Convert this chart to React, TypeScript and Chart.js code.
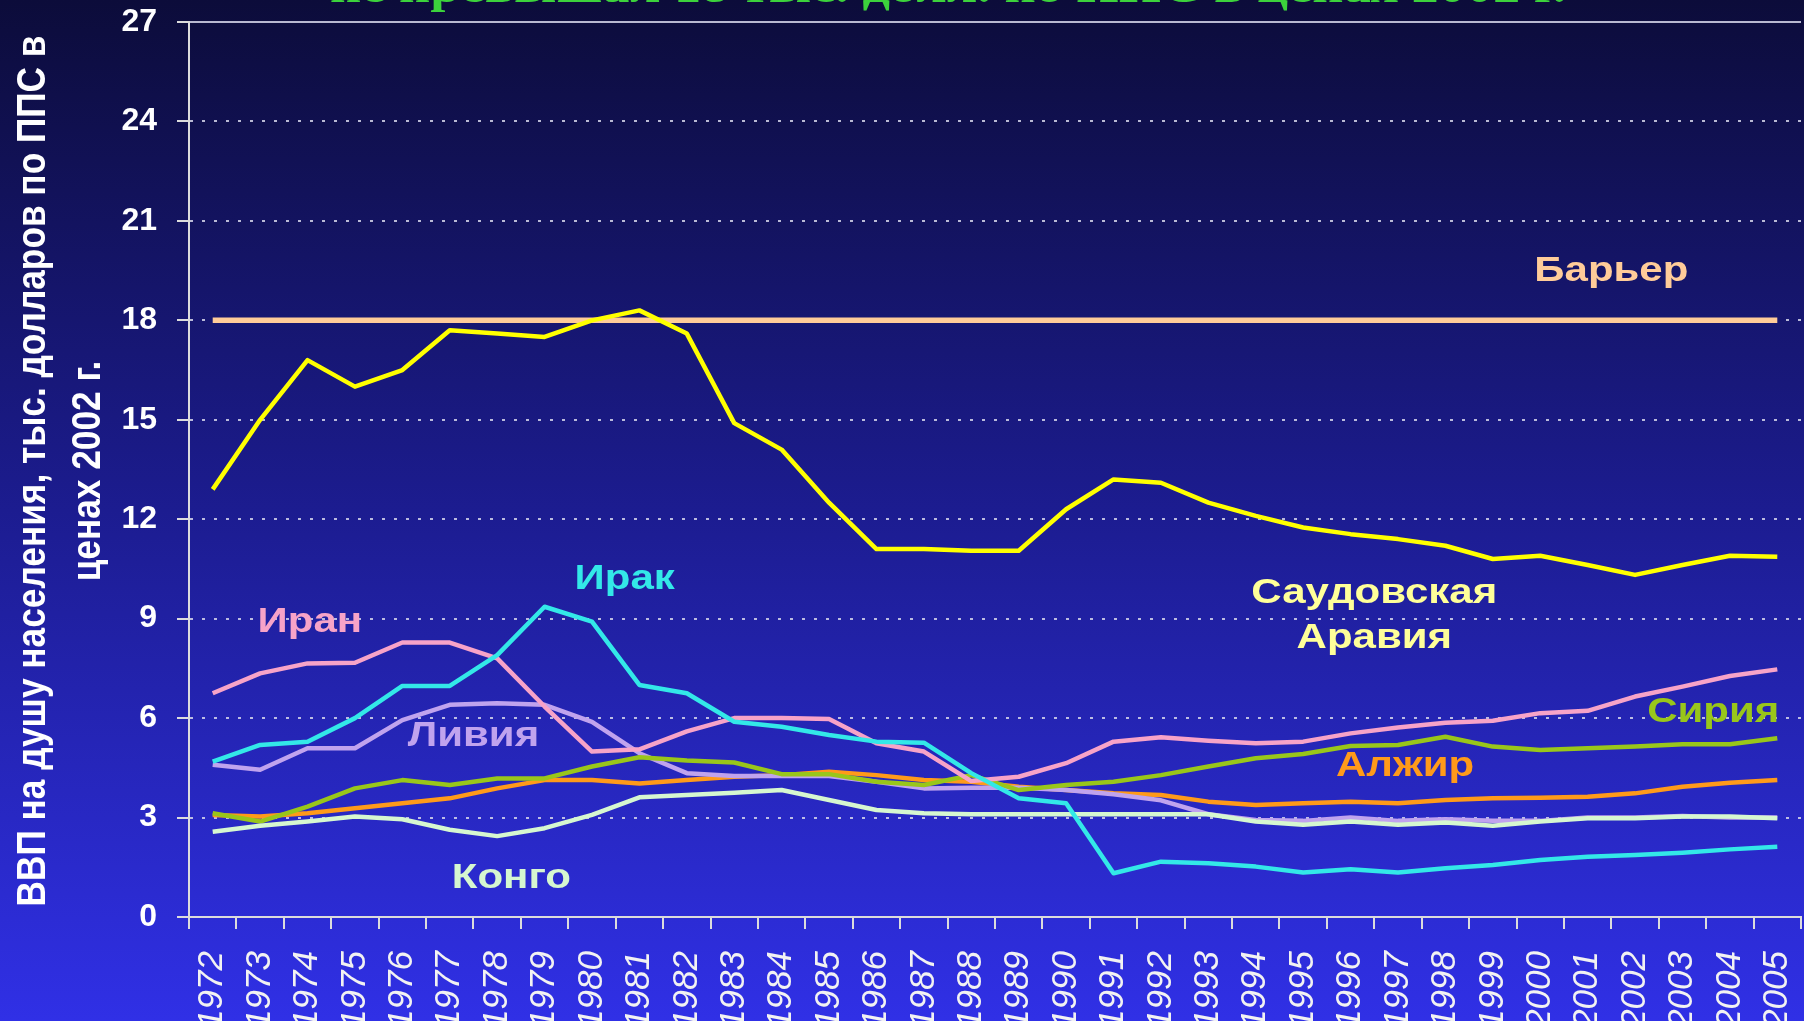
import React, { useEffect, useRef } from "react";
import { Chart, registerables } from "chart.js";

Chart.register(...registerables);

const years = [
  "1972", "1973", "1974", "1975", "1976", "1977", "1978", "1979", "1980", "1981",
  "1982", "1983", "1984", "1985", "1986", "1987", "1988", "1989", "1990", "1991",
  "1992", "1993", "1994", "1995", "1996", "1997", "1998", "1999", "2000", "2001",
  "2002", "2003", "2004", "2005",
];

const barrier = [
  18, 18, 18, 18, 18, 18, 18, 18, 18, 18, 18, 18, 18, 18, 18, 18, 18,
  18, 18, 18, 18, 18, 18, 18, 18, 18, 18, 18, 18, 18, 18, 18, 18, 18,
];

const saudiArabia = [
  12.9, 15.0, 16.8, 16.0, 16.5, 17.7, 17.6, 17.5, 18.0, 18.3,
  17.6, 14.9, 14.1, 12.5, 11.1, 11.1, 11.05, 11.05, 12.3, 13.2,
  13.1, 12.5, 12.1, 11.75, 11.55, 11.4, 11.2, 10.8, 10.9, 10.62,
  10.32, 10.62, 10.9, 10.87,
];

const iraq = [
  4.69, 5.19, 5.29, 6.0, 6.97, 6.97, 7.9, 9.36, 8.91, 7.0,
  6.75, 5.89, 5.74, 5.49, 5.29, 5.26, 4.34, 3.58, 3.43, 1.32,
  1.67, 1.62, 1.52, 1.34, 1.44, 1.34, 1.47, 1.57, 1.72, 1.82,
  1.87, 1.94, 2.04, 2.12,
];

const iran = [
  6.75, 7.35, 7.65, 7.67, 8.28, 8.28, 7.8, 6.35, 4.99, 5.06,
  5.6, 6.0, 6.0, 5.97, 5.24, 4.99, 4.1, 4.23, 4.64, 5.29,
  5.42, 5.32, 5.24, 5.29, 5.54, 5.72, 5.86, 5.92, 6.15, 6.22,
  6.65, 6.95, 7.27, 7.47,
];

const syria = [
  3.13, 2.88, 3.33, 3.88, 4.13, 3.98, 4.18, 4.18, 4.54, 4.82,
  4.72, 4.66, 4.31, 4.31, 4.08, 3.98, 4.28, 3.83, 3.98, 4.08,
  4.28, 4.54, 4.79, 4.92, 5.16, 5.19, 5.44, 5.14, 5.04, 5.09,
  5.14, 5.21, 5.21, 5.39,
];

const algeria = [
  3.08, 3.03, 3.13, 3.28, 3.43, 3.58, 3.88, 4.13, 4.13, 4.03,
  4.13, 4.23, 4.28, 4.38, 4.28, 4.13, 4.08, 3.93, 3.83, 3.73,
  3.68, 3.48, 3.38, 3.43, 3.48, 3.43, 3.53, 3.58, 3.6, 3.63,
  3.73, 3.93, 4.05, 4.13,
];

const libya = [
  4.59, 4.44, 5.09, 5.09, 5.94, 6.4, 6.45, 6.4, 5.89, 4.94,
  4.34, 4.25, 4.25, 4.25, 4.08, 3.88, 3.9, 3.9, 3.83, 3.7,
  3.52, 3.1, 2.93, 2.9, 3.0, 2.9, 2.95, 2.9, 2.9, 3.0,
  3.0, 3.05, 3.0, 3.0,
];

const congo = [
  2.57, 2.75, 2.88, 3.03, 2.95, 2.63, 2.44, 2.68, 3.08, 3.61,
  3.68, 3.75, 3.83, 3.53, 3.23, 3.13, 3.1, 3.1, 3.1, 3.1,
  3.1, 3.1, 2.88, 2.78, 2.88, 2.78, 2.85, 2.75, 2.88, 2.98,
  2.98, 3.03, 3.03, 2.98,
];

const yMin = 0;
const yMax = 27;
const yStep = 3;

const titleText = "не превышал 18 тыс. долл. по ППС в ценах 2002 г.";
const yTitleLines = [
  "ВВП на душу населения, тыс. долларов по ППС в",
  "ценах 2002 г.",
];

// Series name labels, placed in data coordinates (category index, value)
const seriesLabels = [
  { text: "Барьер", idx: 29.5, val: 19.48, color: "#ffcc99" },
  { text: "Ирак", idx: 8.69, val: 10.2, color: "#33e8e8" },
  { text: "Иран", idx: 2.05, val: 8.9, color: "#f7a3c8" },
  { text: "Ливия", idx: 5.5, val: 5.46, color: "#c0a3ee" },
  { text: "Конго", idx: 6.3, val: 1.18, color: "#d6f7d0" },
  { text: "Саудовская", idx: 24.5, val: 9.75, color: "#ffff99" },
  { text: "Аравия", idx: 24.5, val: 8.4, color: "#ffff99" },
  { text: "Сирия", idx: 31.65, val: 6.16, color: "#99c61a" },
  { text: "Алжир", idx: 25.15, val: 4.56, color: "#ff9a1a" },
];

const W = 1804;
const H = 1021;

const decorPlugin = {
  id: "decor",
  beforeDraw(chart: any) {
    const ctx = chart.ctx;
    const g = ctx.createLinearGradient(0, 0, 0, H);
    g.addColorStop(0, "#0c0c3a");
    g.addColorStop(0.5, "#1c1c90");
    g.addColorStop(1, "#3030e6");
    ctx.save();
    ctx.fillStyle = g;
    ctx.fillRect(0, 0, W, H);
    ctx.restore();
  },
  afterDraw(chart: any) {
    const ctx = chart.ctx;
    const xs = chart.scales.x;
    const ys = chart.scales.y;

    // series labels
    const step = xs.getPixelForValue(1) - xs.getPixelForValue(0);
    const x0 = xs.getPixelForValue(0);
    seriesLabels.forEach((l) => {
      const px = x0 + l.idx * step;
      const py = ys.getPixelForValue(l.val);
      ctx.save();
      ctx.translate(px, py);
      ctx.scale(1.2, 1);
      ctx.font = 'bold 35px "Liberation Sans", Arial, sans-serif';
      ctx.fillStyle = l.color;
      ctx.textAlign = "center";
      ctx.textBaseline = "middle";
      ctx.fillText(l.text, 0, 0);
      ctx.restore();
    });

    // y axis title (two rotated lines, condensed)
    ctx.save();
    ctx.font = 'bold 40px "Liberation Sans", Arial, sans-serif';
    const m = ctx.measureText(yTitleLines[0]).width;
    const s = 871 / m;
    const baseXs = [45, 100];
    yTitleLines.forEach((t, i) => {
      ctx.save();
      ctx.translate(baseXs[i], 471);
      ctx.rotate(-Math.PI / 2);
      ctx.scale(s, 1);
      ctx.fillStyle = "#ffffff";
      ctx.textAlign = "center";
      ctx.textBaseline = "alphabetic";
      ctx.fillText(t, 0, 0);
      ctx.restore();
    });
    ctx.restore();

    // title (cut off at the top)
    ctx.save();
    ctx.font = 'bold 48px "Liberation Serif", "DejaVu Serif", serif';
    const tw = ctx.measureText(titleText).width;
    const ts = 1236 / tw;
    ctx.translate(948, 2);
    ctx.scale(ts, 1);
    ctx.fillStyle = "#3cd23c";
    ctx.textAlign = "center";
    ctx.textBaseline = "alphabetic";
    ctx.fillText(titleText, 0, 0);
    ctx.restore();
  },
};

export default function App() {
  const ref = useRef<HTMLCanvasElement | null>(null);

  useEffect(() => {
    if (!ref.current) return;
    const line = (label: string, data: number[], color: string, width = 4.5) => ({
      label,
      data,
      borderColor: color,
      backgroundColor: color,
      borderWidth: width,
      pointRadius: 0,
      pointHoverRadius: 0,
      tension: 0,
      fill: false,
      borderJoinStyle: "round" as const,
    });

    const chart = new Chart(ref.current, {
      type: "line",
      data: {
        labels: years,
        datasets: [
          line("Саудовская Аравия", saudiArabia, "#ffff00"),
          line("Барьер", barrier, "#ffcc99", 5.5),
          line("Ирак", iraq, "#33e8e8"),
          line("Иран", iran, "#f7a3c8"),
          line("Конго", congo, "#d6f7d0"),
          line("Сирия", syria, "#99c61a"),
          line("Ливия", libya, "#c0a3ee"),
          line("Алжир", algeria, "#ff9a1a"),
        ],
      },
      options: {
        responsive: false,
        animation: false,
        devicePixelRatio: 1,
        layout: { padding: { top: 22, right: 3, left: 0, bottom: 0 } },
        plugins: {
          legend: { display: false },
          tooltip: { enabled: false },
          title: { display: false },
        },
        scales: {
          x: {
            type: "category",
            offset: true,
            grid: {
              display: true,
              drawOnChartArea: false,
              drawTicks: true,
              tickLength: 12,
              offset: true,
              color: "#dcdcdc",
              lineWidth: 2,
            },
            border: { display: true, color: "#dcdcdc", width: 2 },
            ticks: {
              autoSkip: false,
              minRotation: 90,
              maxRotation: 90,
              padding: 22,
              color: "#f2f2f2",
              font: { family: '"Liberation Sans", Arial, sans-serif', size: 35, style: "italic" },
            },
            afterFit(scale: any) {
              scale.height = 104;
              scale.paddingLeft = 0;
              scale.paddingRight = 0;
            },
          },
          y: {
            min: yMin,
            max: yMax,
            grid: {
              display: true,
              drawOnChartArea: true,
              drawTicks: true,
              tickLength: 12,
              color: "rgba(215,215,235,0.85)",
              lineWidth: 2,
              tickColor: "#dcdcdc",
              tickBorderDash: [],
            },
            border: {
              display: true,
              color: "#dcdcdc",
              width: 2,
              dash: (c: any) =>
                c && c.tick && c.tick.value !== yMax && c.tick.value !== yMin ? [3, 9] : [],
            },
            ticks: {
              stepSize: yStep,
              padding: 20,
              color: "#ffffff",
              font: { family: '"Liberation Sans", Arial, sans-serif', size: 32, weight: "bold" },
            },
            afterFit(scale: any) {
              scale.width = 189;
              scale.paddingTop = 0;
              scale.paddingBottom = 0;
            },
          },
        },
      },
      plugins: [decorPlugin],
    });
    return () => chart.destroy();
  }, []);

  return (
    <div style={{ position: "fixed", left: 0, top: 0, width: W, height: H, overflow: "hidden" }}>
      <canvas ref={ref} width={W} height={H} style={{ display: "block", width: W, height: H }} />
    </div>
  );
}
